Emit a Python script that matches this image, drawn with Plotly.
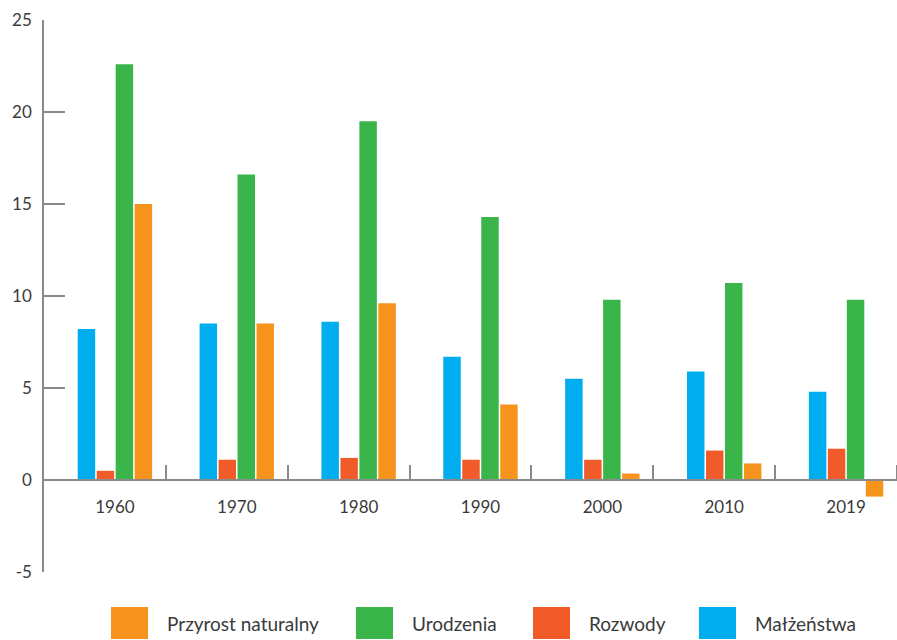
import plotly.graph_objects as go

years = ["1960", "1970", "1980", "1990", "2000", "2010", "2019"]
malzenstwa = [8.2, 8.5, 8.6, 6.7, 5.5, 5.9, 4.8]
rozwody = [0.5, 1.1, 1.2, 1.1, 1.1, 1.6, 1.7]
urodzenia = [22.6, 16.6, 19.5, 14.3, 9.8, 10.7, 9.8]
przyrost = [15.0, 8.5, 9.6, 4.1, 0.35, 0.9, -0.9]

series_names = ["Małżeństwa", "Rozwody", "Urodzenia", "Przyrost naturalny"]
series_values = [malzenstwa, rozwody, urodzenia, przyrost]
series_colors = ["#00AEEF", "#F15A29", "#39B54A", "#F7941D"]

y_ticks = [-5, 0, 5, 10, 15, 20, 25]

FONT = "Lato"
TEXT = "#3a3a3a"
AXIS = "#8a8a8a"

W, H = 897, 640
ML, MR, MT, MB = 44, 0, 20, 68

xs = list(range(len(years)))

fig = go.Figure()
for name, vals, col in zip(series_names, series_values, series_colors):
    fig.add_trace(go.Bar(x=xs, y=vals, name=name, marker=dict(color=col, line=dict(width=0)),
                         showlegend=False))

# category separator ticks
sep = [i + 0.418 for i in range(len(years))]

fig.update_layout(
    width=W, height=H,
    margin=dict(l=ML, r=MR, t=MT, b=MB),
    paper_bgcolor="white", plot_bgcolor="white",
    barmode="group", bargap=0.377, bargroupgap=0.08,
    font=dict(family=FONT, color=TEXT, size=17),
    xaxis=dict(
        range=[-0.582, 6.418],
        anchor="free", position=5 / 30,
        showline=True, linecolor=AXIS, linewidth=1.5,
        showgrid=False, zeroline=False,
        tickmode="array", tickvals=xs, ticktext=years,
        ticks="", ticklabelstandoff=12,
        tickfont=dict(family=FONT, size=17, color=TEXT),
        minor=dict(tickmode="array", tickvals=sep, ticks="inside", ticklen=14,
                   tickcolor=AXIS, tickwidth=1.5, showgrid=False),
    ),
    yaxis=dict(
        range=[-5, 25],
        showline=True, linecolor=AXIS, linewidth=1.5,
        showgrid=False, zeroline=False,
        tickmode="array", tickvals=y_ticks, ticktext=[str(v) for v in y_ticks],
        ticks="inside", ticklen=21, tickcolor=AXIS, tickwidth=1.5,
        ticklabelstandoff=7,
        tickfont=dict(family=FONT, size=17, color=TEXT),
    ),
)

# custom legend with large swatches (reverse series order)
plot_w = W - ML - MR
plot_h = H - MT - MB
def px_x(p):
    return (p - ML) / plot_w
def px_y(p):
    return (H - MB - p) / plot_h

legend_left = [111, 356, 533, 699]
sq_w, sq_top, sq_bot = 37, 607, 639
for left, name, col in zip(legend_left, series_names[::-1], series_colors[::-1]):
    fig.add_shape(type="rect", xref="paper", yref="paper",
                  x0=px_x(left), x1=px_x(left + sq_w), y0=px_y(sq_bot), y1=px_y(sq_top),
                  fillcolor=col, line=dict(width=0), layer="above")
    fig.add_annotation(xref="paper", yref="paper", x=px_x(left + sq_w + 17), y=px_y((sq_top + sq_bot) / 2),
                       text=name, showarrow=False, xanchor="left", yanchor="middle",
                       font=dict(family=FONT, size=19, color=TEXT))

fig.write_html("out.html",
               config={"displayModeBar": False},
               post_script="document.body.style.margin='0';document.body.style.overflow='hidden';")
